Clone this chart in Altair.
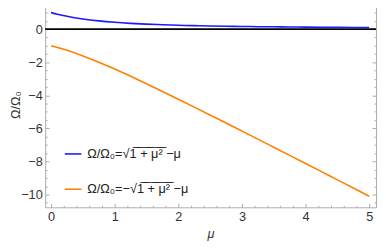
import altair as alt
import pandas as pd

# values
mu = [0, 0.1, 0.25, 0.5, 0.75, 1.0, 1.25, 1.5, 1.75, 2.0, 2.25, 2.5, 2.75,
      3.0, 3.25, 3.5, 3.75, 4.0, 4.25, 4.5, 4.75, 5.0]
upper = [1.0, 0.905, 0.781, 0.618, 0.5, 0.414, 0.351, 0.303, 0.266, 0.236,
         0.212, 0.193, 0.176, 0.162, 0.150, 0.140, 0.131, 0.123, 0.116,
         0.110, 0.104, 0.099]
lower = [-1.0, -1.105, -1.281, -1.618, -2.0, -2.414, -2.851, -3.303, -3.766,
         -4.236, -4.712, -5.193, -5.676, -6.162, -6.650, -7.140, -7.631,
         -8.123, -8.616, -9.110, -9.604, -10.099]
series_names = ["Ω/Ω₀=√1̅ ̅+̅ ̅μ̅²̅ −μ", "Ω/Ω₀=−√1̅ ̅+̅ ̅μ̅²̅ −μ"]
series_colors = ["#1a1aff", "#ff8000"]
x_major = [0, 1, 2, 3, 4, 5]
x_minor = [0.2, 0.4, 0.6, 0.8, 1.2, 1.4, 1.6, 1.8, 2.2, 2.4, 2.6, 2.8,
           3.2, 3.4, 3.6, 3.8, 4.2, 4.4, 4.6, 4.8]
y_major = [-10, -8, -6, -4, -2, 0]
y_minor = [-10.5, -9.5, -9, -8.5, -7.5, -7, -6.5, -5.5, -5, -4.5, -3.5, -3,
           -2.5, -1.5, -1, -0.5, 0.5, 1, 1.5]
zero_line = [0]

rows = []
for name, vals in zip(series_names, [upper, lower]):
    for m, v in zip(mu, vals):
        rows.append({"mu": m, "omega": v, "series": name})
df = pd.DataFrame(rows)

FRAME = "#aaaaaa"
FONT = "Liberation Sans"
xs = alt.Scale(domain=[-0.0923, 5.108], nice=False, zero=False)
ys = alt.Scale(domain=[-10.77, 1.657], nice=False, zero=False)

lines = alt.Chart(df).mark_line(strokeWidth=1.6, interpolate="monotone").encode(
    x=alt.X("mu:Q", scale=xs, axis=alt.Axis(
        values=x_major, format="d", ticks=False, domain=False, grid=False,
        title="μ", titleFontStyle="italic", labelPadding=4, titlePadding=4,
        orient="bottom")),
    y=alt.Y("omega:Q", scale=ys, axis=alt.Axis(
        values=y_major, format="d", ticks=False, domain=False, grid=False,
        title="Ω/Ω₀", labelPadding=3, orient="left",
        titleX=-23, titleY=105, titleAngle=270, titleAlign="center",
        titleBaseline="bottom")),
    color=alt.Color("series:N", scale=alt.Scale(domain=series_names, range=series_colors),
                    legend=alt.Legend(orient="none", legendX=19, legendY=146, title=None,
                                      symbolType="stroke", symbolSize=289,
                                      symbolStrokeWidth=1.6, labelFontSize=13,
                                      labelFont=FONT, labelColor="#222222",
                                      rowPadding=19, padding=0, labelOffset=5,
                                      labelLimit=400)),
)

zero = alt.Chart(pd.DataFrame({"y": zero_line})).mark_rule(color="black", strokeWidth=1.8).encode(
    y=alt.Y("y:Q", scale=ys, axis=None))


def tick_axis(orient, values, size):
    return alt.Axis(orient=orient, values=values, ticks=True, tickSize=size,
                    offset=-size, labels=False, domain=False, grid=False,
                    title=None, tickColor=FRAME, tickWidth=1)


def tick_layer(xo, yo, xv, yv, size):
    return alt.Chart(df).mark_line(opacity=0).encode(
        x=alt.X("mu:Q", scale=xs, axis=tick_axis(xo, xv, size)),
        y=alt.Y("omega:Q", scale=ys, axis=tick_axis(yo, yv, size)),
        detail="series:N")


t1 = tick_layer("bottom", "left", x_major, y_major, 4)
t2 = tick_layer("bottom", "left", x_minor, y_minor, 2)
t3 = tick_layer("top", "right", x_major, y_major, 4)
t4 = tick_layer("top", "right", x_minor, y_minor, 2)

chart = alt.layer(t1, t2, t3, t4, zero, lines).resolve_axis(
    x="independent", y="independent"
).properties(
    width=338, height=210,
    padding={"left": 38, "top": -9, "right": 2, "bottom": 40},
    autosize=alt.AutoSizeParams(type="none"),
).configure_view(stroke=FRAME, strokeWidth=1).configure_axis(
    labelFont=FONT, labelFontSize=13, labelColor="#333333",
    titleFont=FONT, titleFontSize=13, titleFontWeight="normal", titleColor="#333333"
)

chart.save("out.html", embed_options={"renderer": "svg", "actions": False})
